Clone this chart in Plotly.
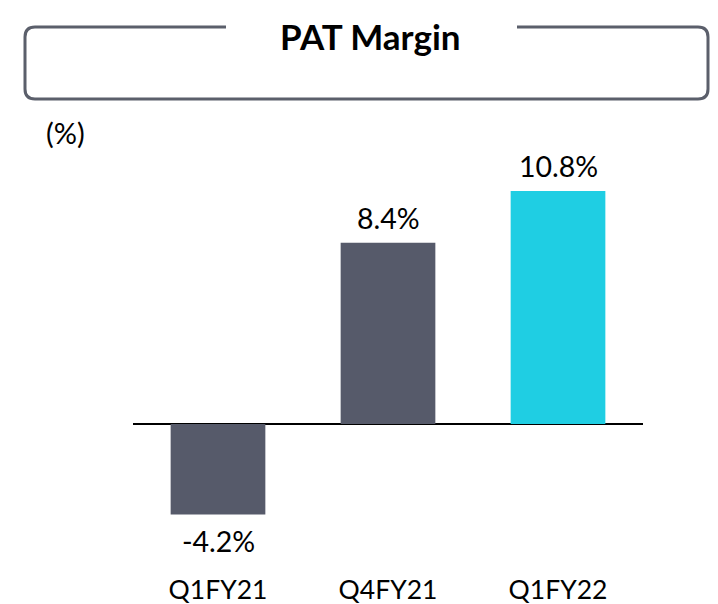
import plotly.graph_objects as go

categories = ["Q1FY21", "Q4FY21", "Q1FY22"]
values = [-4.2, 8.4, 10.8]
labels = ["-4.2%", "8.4%", "10.8%"]
colors = ["#565a6a", "#565a6a", "#1fcee3"]

W, H = 718, 604
L, R = 133, 75
T, B = 140, 49
pw = W - L - R
ph = H - T - B
zero_px = 424
ppu = 21.57
ymax = (zero_px - T) / ppu
ymin = -((H - B) - zero_px) / ppu

FONT = "Lato"

def px2paper(x, y):
    return (x - L) / pw, ((H - B) - y) / ph

fig = go.Figure()
fig.add_trace(go.Bar(
    x=categories, y=values, marker_color=colors, width=0.557,
    marker_line_width=0, hoverinfo="skip"))

for c, v, t in zip(categories, values, labels):
    if v >= 0:
        fig.add_annotation(x=c, y=v, text=t, showarrow=False, yanchor="bottom",
                           yshift=6, font=dict(family=FONT, size=28.5, color="#000"))
    else:
        fig.add_annotation(x=c, y=v, text=t, showarrow=False, yanchor="top",
                           yshift=-7, font=dict(family=FONT, size=28.5, color="#000"))

# title box with gap
left, right, top, bottom, r = 25, 708, 27, 99, 10
gl, gr = 226, 517
def P(x, y):
    a, b = px2paper(x, y)
    return f"{a:.5f},{b:.5f}"
path = (f"M {P(gl, top)} L {P(left + r, top)} Q {P(left, top)} {P(left, top + r)} "
        f"L {P(left, bottom - r)} Q {P(left, bottom)} {P(left + r, bottom)} "
        f"L {P(right - r, bottom)} Q {P(right, bottom)} {P(right, bottom - r)} "
        f"L {P(right, top + r)} Q {P(right, top)} {P(right - r, top)} L {P(gr, top)}")
fig.add_shape(type="path", path=path, xref="paper", yref="paper",
              line=dict(color="#5b5f6b", width=3))

tx, ty = px2paper(370, 36)
fig.add_annotation(x=tx, y=ty, xref="paper", yref="paper", text="<b>PAT Margin</b>",
                   xanchor="center", yanchor="middle",
                   showarrow=False, font=dict(family=FONT, size=35, color="#000"))
px_, py_ = px2paper(65, 132)
fig.add_annotation(x=px_, y=py_, xref="paper", yref="paper", text="(%)",
                   xanchor="center", yanchor="middle",
                   showarrow=False, font=dict(family=FONT, size=29, color="#000"))

fig.update_layout(
    width=W, height=H, margin=dict(l=L, r=R, t=T, b=B, autoexpand=False),
    plot_bgcolor="white", paper_bgcolor="white", showlegend=False,
    xaxis=dict(range=[-0.5, 2.5], showgrid=False, showline=False, ticks="",
               ticklabelstandoff=16, automargin=False,
               tickfont=dict(family=FONT, size=26.5, color="#000")),
    yaxis=dict(range=[ymin, ymax], showgrid=False, showticklabels=False, automargin=False,
               zeroline=True, zerolinecolor="#000", zerolinewidth=1.5, showline=False),
)
fig.write_html("out.html", config={"displayModeBar": False},
               post_script="document.body.style.margin='0';")
